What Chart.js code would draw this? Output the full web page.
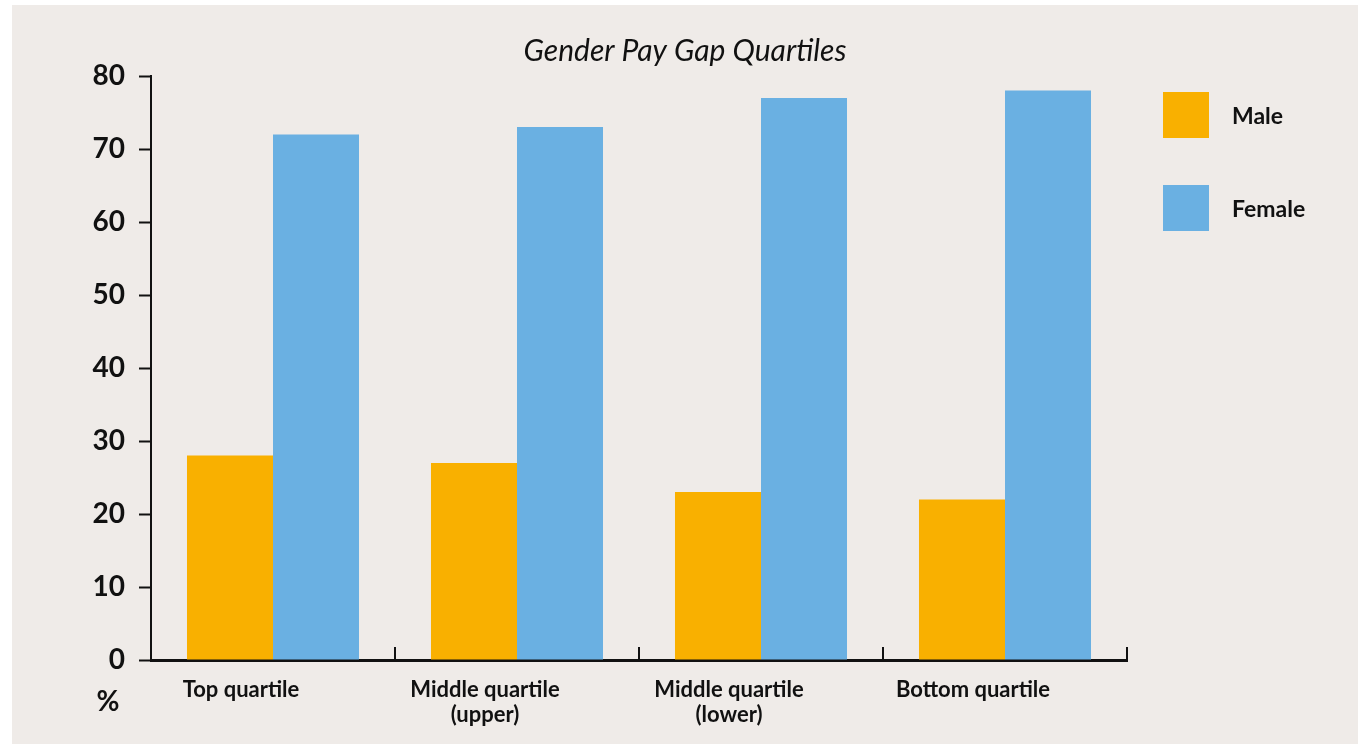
<!DOCTYPE html>
<html lang="en">
<head>
    <meta charset="UTF-8">
    <title>Gender Pay Gap Quartiles</title>
    <script src="https://cdn.jsdelivr.net/npm/chart.js"></script>
    <style>
        body {
            margin: 0;
            background: #ffffff;
            font-family: 'Lato', sans-serif;
        }
        .panel {
            position: absolute;
            left: 12px;
            top: 5px;
            width: 1346px;
            height: 739px;
            background: #efebe8;
        }
        .legend {
            position: absolute;
            left: 1151px;
            top: 87px;
        }
        .legend-item {
            display: flex;
            align-items: center;
            height: 46px;
            margin-bottom: 47px;
            font-weight: 700;
            font-size: 23px;
            color: #111;
        }
        .swatch {
            width: 46px;
            height: 46px;
            margin-right: 23px;
        }
        .unit {
            position: absolute;
            left: 84px;
            top: 678px;
            width: 24px;
            text-align: center;
            font-weight: 700;
            font-size: 28px;
            color: #111;
        }
    </style>
</head>
<body>
<div class="panel">
    <canvas id="payGapChart" width="1346" height="739"></canvas>
    <div class="legend" id="legend"></div>
    <div class="unit">%</div>
</div>

<script>
    // values
    const quartiles = [['Top quartile'], ['Middle quartile', '(upper)'], ['Middle quartile', '(lower)'], ['Bottom quartile']];
    const maleShare = [28, 27, 23, 22];
    const femaleShare = [72, 73, 77, 78];
    const seriesNames = ['Male', 'Female'];
    const seriesColors = ['#f9b000', '#6ab0e2'];

    // little upward ticks between categories on the x axis
    const innerTicks = {
        id: 'innerTicks',
        afterDatasetsDraw(chart) {
            const x = chart.scales.x;
            const ctx = chart.ctx;
            const half = (x.getPixelForValue(1) - x.getPixelForValue(0)) / 2;
            ctx.save();
            ctx.strokeStyle = '#111';
            ctx.lineWidth = 2;
            ctx.beginPath();
            for (let i = 0; i < quartiles.length; i++) {
                const px = Math.round(x.getPixelForValue(i) + half);
                ctx.moveTo(px, chart.chartArea.bottom);
                ctx.lineTo(px, chart.chartArea.bottom - 13);
            }
            ctx.stroke();
            ctx.restore();
        }
    };

    const legendBox = document.getElementById('legend');
    seriesNames.forEach((name, i) => {
        const item = document.createElement('div');
        item.className = 'legend-item';
        item.innerHTML = '<span class="swatch" style="background:' + seriesColors[i] + '"></span>' + name;
        legendBox.appendChild(item);
    });

    const ctx = document.getElementById('payGapChart').getContext('2d');
    new Chart(ctx, {
        type: 'bar',
        data: {
            labels: quartiles,
            datasets: [
                {
                    label: seriesNames[0],
                    data: maleShare,
                    backgroundColor: seriesColors[0]
                },
                {
                    label: seriesNames[1],
                    data: femaleShare,
                    backgroundColor: seriesColors[1]
                }
            ]
        },
        options: {
            responsive: false,
            animation: false,
            datasets: {
                bar: {
                    categoryPercentage: 0.705,
                    barPercentage: 1
                }
            },
            plugins: {
                legend: { display: false },
                tooltip: { enabled: false },
                title: {
                    display: true,
                    text: 'Gender Pay Gap Quartiles',
                    color: '#111',
                    font: { family: 'Lato', size: 30, style: 'italic', weight: 'normal' },
                    padding: { top: 28, bottom: 7 }
                }
            },
            scales: {
                x: {
                    grid: { display: false, drawTicks: false },
                    border: { color: '#111', width: 3 },
                    ticks: {
                        color: '#111',
                        padding: 17,
                        maxRotation: 0,
                        labelOffset: -32,
                        font: { family: 'Lato', size: 22, weight: 'bold', lineHeight: 1.14 }
                    },
                    afterFit(scale) { scale.height = 84; }
                },
                y: {
                    min: 0,
                    max: 80,
                    ticks: {
                        stepSize: 10,
                        color: '#111',
                        padding: 14,
                        font: { family: 'Lato', size: 28, weight: 'bold' }
                    },
                    grid: {
                        drawOnChartArea: false,
                        tickLength: 12,
                        tickWidth: 2,
                        color: '#111'
                    },
                    border: { color: '#111', width: 2 },
                    afterFit(scale) { scale.width = 139; }
                },
                // empty right-hand strip that leaves room for the legend
                side: {
                    type: 'linear',
                    position: 'right',
                    display: true,
                    ticks: { display: false },
                    grid: { display: false, drawTicks: false },
                    border: { display: false },
                    afterFit(scale) { scale.width = 231; }
                }
            }
        },
        plugins: [innerTicks]
    });
</script>
</body>
</html>
